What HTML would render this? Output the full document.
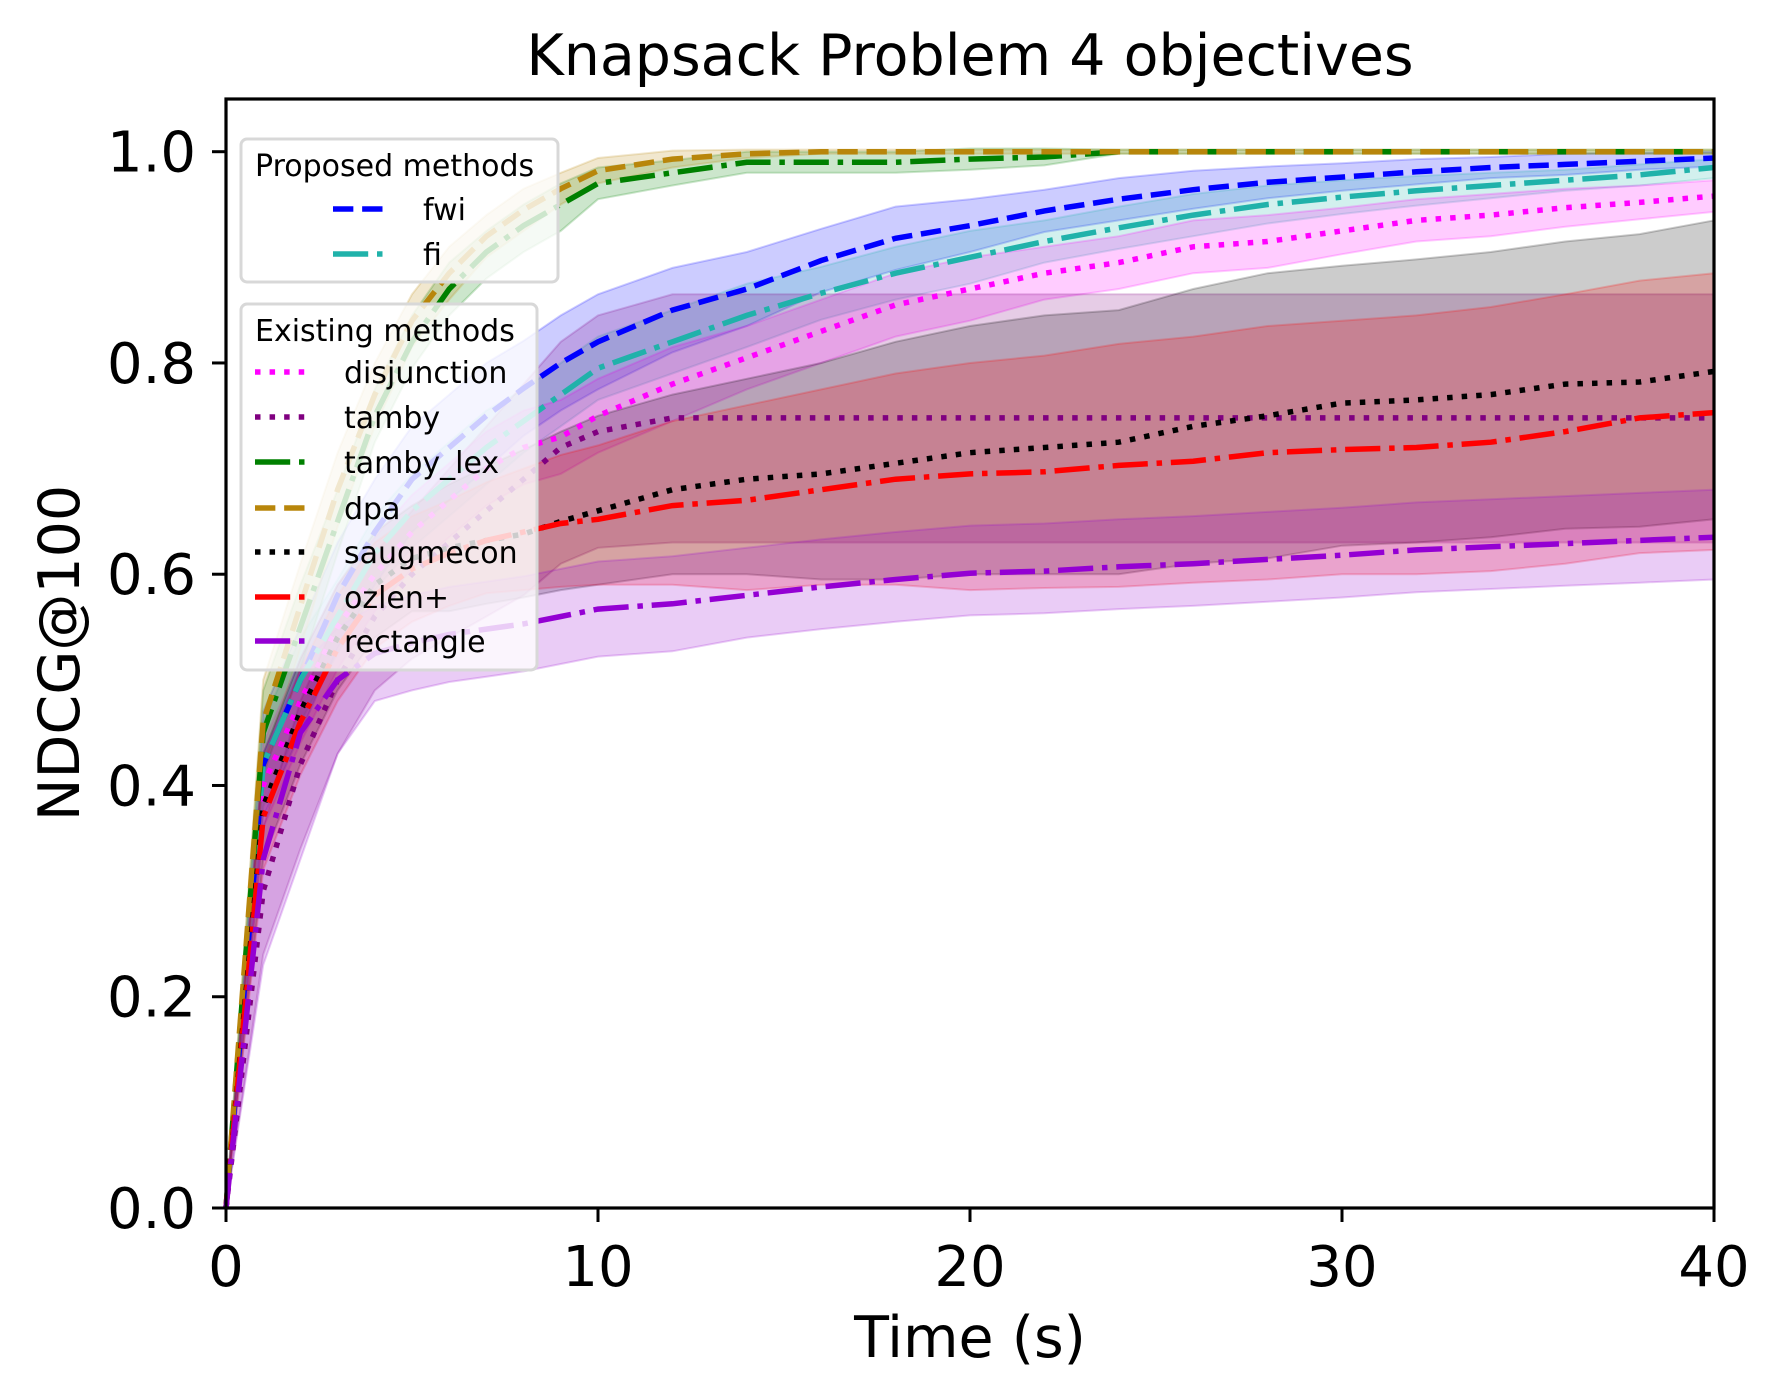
<!DOCTYPE html>
<html><head><meta charset="utf-8"><style>
html,body{margin:0;padding:0;background:#fff;}
svg{display:block;font-family:"DejaVu Sans","Liberation Sans",sans-serif;}
</style></head><body>
<svg id="chart" width="1780" height="1398" viewBox="0 0 1780 1398" xmlns="http://www.w3.org/2000/svg">
<rect width="1780" height="1398" fill="#fff"/>
<g id="bands"></g>
<g id="lines"></g>
<g id="axes"></g>
<g id="legend"></g>
</svg>
<script>
const times = [0,1,2,3,4,5,6,7,8,9,10,12,14,16,18,20,22,24,26,28,30,32,34,36,38,40];
const fwiMean = [0,0.42,0.50,0.58,0.64,0.69,0.72,0.75,0.776,0.80,0.82,0.85,0.87,0.897,0.918,0.93,0.944,0.955,0.964,0.971,0.976,0.981,0.985,0.988,0.991,0.994];
const fwiHi = [0,0.05,0.05,0.05,0.05,0.05,0.05,0.05,0.045,0.045,0.045,0.04,0.035,0.03,0.03,0.025,0.02,0.02,0.018,0.015,0.013,0.012,0.01,0.01,0.008,0.006];
const fwiLo = [0,0.05,0.05,0.05,0.05,0.05,0.05,0.05,0.045,0.045,0.045,0.04,0.035,0.03,0.03,0.025,0.02,0.02,0.018,0.015,0.013,0.012,0.01,0.01,0.008,0.008];
const fiMean = [0,0.42,0.50,0.56,0.62,0.66,0.69,0.72,0.745,0.77,0.795,0.82,0.845,0.866,0.885,0.90,0.915,0.928,0.94,0.95,0.957,0.963,0.968,0.973,0.978,0.985];
const fiHi = [0,0.04,0.04,0.035,0.035,0.035,0.035,0.035,0.03,0.03,0.03,0.03,0.03,0.025,0.025,0.025,0.02,0.02,0.02,0.018,0.016,0.014,0.012,0.01,0.01,0.008];
const fiLo = [0,0.04,0.04,0.035,0.035,0.035,0.035,0.035,0.03,0.03,0.03,0.03,0.03,0.025,0.025,0.025,0.02,0.02,0.02,0.018,0.016,0.014,0.012,0.01,0.01,0.01];
const disjMean = [0,0.40,0.48,0.55,0.60,0.64,0.67,0.70,0.72,0.73,0.75,0.78,0.805,0.83,0.855,0.87,0.885,0.895,0.91,0.915,0.925,0.935,0.94,0.947,0.952,0.958];
const disjHi = [0,0.04,0.04,0.04,0.035,0.035,0.035,0.035,0.035,0.035,0.035,0.035,0.03,0.03,0.03,0.03,0.025,0.025,0.025,0.025,0.022,0.02,0.02,0.018,0.016,0.015];
const disjLo = [0,0.04,0.04,0.04,0.035,0.035,0.035,0.035,0.035,0.035,0.035,0.035,0.03,0.03,0.03,0.03,0.025,0.025,0.025,0.025,0.022,0.02,0.02,0.018,0.016,0.015];
const tambyMean = [0,0.30,0.42,0.50,0.56,0.60,0.63,0.66,0.69,0.72,0.735,0.748,0.748,0.748,0.748,0.748,0.748,0.748,0.748,0.748,0.748,0.748,0.748,0.748,0.748,0.748];
const tambyHi = [0,0.06,0.06,0.06,0.06,0.06,0.07,0.08,0.09,0.1,0.11,0.117,0.117,0.117,0.117,0.117,0.117,0.117,0.117,0.117,0.117,0.117,0.117,0.117,0.117,0.117];
const tambyLo = [0,0.06,0.08,0.07,0.07,0.08,0.09,0.1,0.11,0.11,0.11,0.118,0.118,0.118,0.118,0.118,0.118,0.118,0.118,0.118,0.118,0.118,0.118,0.118,0.118,0.118];
const lexMean = [0,0.45,0.55,0.65,0.75,0.82,0.87,0.905,0.93,0.95,0.97,0.98,0.99,0.99,0.99,0.993,0.995,1.0,1.0,1.0,1.0,1.0,1.0,1.0,1.0,1.0];
const lexHi = [0,0.04,0.04,0.03,0.025,0.025,0.025,0.02,0.02,0.02,0.015,0.012,0.01,0.01,0.01,0.01,0.008,0.002,0.002,0.002,0.002,0.002,0.002,0.002,0.002,0.002];
const lexLo = [0,0.04,0.04,0.03,0.025,0.025,0.025,0.025,0.025,0.025,0.015,0.012,0.01,0.01,0.01,0.01,0.008,0.002,0.002,0.002,0.002,0.002,0.002,0.002,0.002,0.002];
const dpaMean = [0,0.46,0.57,0.68,0.77,0.84,0.885,0.92,0.945,0.965,0.982,0.993,0.998,1.0,1.0,1.0,1.0,1.0,1.0,1.0,1.0,1.0,1.0,1.0,1.0,1.0];
const dpaHi = [0,0.04,0.04,0.035,0.03,0.025,0.025,0.02,0.02,0.015,0.012,0.008,0.004,0.002,0.002,0.002,0.002,0.002,0.002,0.002,0.002,0.002,0.002,0.002,0.002,0.002];
const dpaLo = [0,0.04,0.04,0.035,0.03,0.025,0.025,0.02,0.02,0.015,0.012,0.008,0.004,0.002,0.002,0.002,0.002,0.002,0.002,0.002,0.002,0.002,0.002,0.002,0.002,0.002];
const saugMean = [0,0.38,0.47,0.54,0.59,0.615,0.625,0.632,0.638,0.65,0.66,0.68,0.69,0.695,0.705,0.715,0.72,0.725,0.74,0.75,0.762,0.765,0.77,0.78,0.782,0.792];
const saugHi = [0,0.05,0.05,0.05,0.05,0.05,0.06,0.07,0.08,0.085,0.09,0.09,0.095,0.105,0.115,0.12,0.125,0.125,0.13,0.135,0.13,0.133,0.135,0.135,0.14,0.143];
const saugLo = [0,0.05,0.05,0.05,0.05,0.05,0.06,0.06,0.06,0.065,0.07,0.08,0.09,0.1,0.11,0.115,0.12,0.125,0.13,0.135,0.135,0.135,0.135,0.137,0.137,0.14];
const ozlenMean = [0,0.37,0.46,0.53,0.58,0.605,0.62,0.632,0.64,0.648,0.652,0.665,0.67,0.68,0.69,0.695,0.697,0.703,0.707,0.715,0.718,0.72,0.725,0.735,0.748,0.753];
const ozlenHi = [0,0.05,0.05,0.05,0.05,0.05,0.05,0.055,0.06,0.065,0.07,0.08,0.09,0.095,0.1,0.105,0.11,0.115,0.118,0.12,0.122,0.125,0.128,0.13,0.13,0.132];
const ozlenLo = [0,0.05,0.05,0.05,0.05,0.05,0.05,0.05,0.055,0.06,0.062,0.075,0.085,0.09,0.1,0.11,0.11,0.115,0.115,0.12,0.118,0.12,0.122,0.125,0.128,0.13];
const rectMean = [0,0.33,0.45,0.50,0.525,0.535,0.543,0.548,0.553,0.56,0.567,0.572,0.58,0.588,0.595,0.601,0.603,0.607,0.61,0.614,0.618,0.623,0.626,0.629,0.632,0.635];
const rectHi = [0,0.1,0.06,0.05,0.045,0.045,0.045,0.045,0.045,0.045,0.045,0.045,0.045,0.045,0.045,0.045,0.045,0.045,0.045,0.045,0.045,0.045,0.045,0.045,0.045,0.045];
const rectLo = [0,0.1,0.12,0.07,0.045,0.045,0.045,0.045,0.045,0.045,0.045,0.045,0.04,0.04,0.04,0.04,0.04,0.04,0.04,0.04,0.04,0.04,0.04,0.04,0.04,0.04];
const xTicks = [0,10,20,30,40];
const yTicks = [0.0,0.2,0.4,0.6,0.8,1.0];

const NS='http://www.w3.org/2000/svg';
const X0=226,X1=1714,Y0=1208,Y1=151.7,TOP=99;
const sx=t=>X0+(X1-X0)*t/40;
const sy=v=>Y0-(Y0-Y1)*v;
function mk(tag,attrs,parent){const e=document.createElementNS(NS,tag);for(const k in attrs)e.setAttribute(k,attrs[k]);parent.appendChild(e);return e;}
const LW=5.5;
const dashes={dashed:(3.7*LW)+' '+(1.6*LW),dashdot:(6.4*LW)+' '+(1.6*LW)+' '+LW+' '+(1.6*LW),dotted:LW+' '+(1.65*LW)};
const series=[
 {n:'fwi',c:'#0000ff',s:'dashed',m:fwiMean,hi:fwiHi,lo:fwiLo},
 {n:'fi',c:'#20b2aa',s:'dashdot',m:fiMean,hi:fiHi,lo:fiLo},
 {n:'disjunction',c:'#ff00ff',s:'dotted',m:disjMean,hi:disjHi,lo:disjLo},
 {n:'tamby',c:'#800080',s:'dotted',m:tambyMean,hi:tambyHi,lo:tambyLo},
 {n:'tamby_lex',c:'#008000',s:'dashdot',m:lexMean,hi:lexHi,lo:lexLo},
 {n:'dpa',c:'#b8860b',s:'dashed',m:dpaMean,hi:dpaHi,lo:dpaLo},
 {n:'saugmecon',c:'#000000',s:'dotted',m:saugMean,hi:saugHi,lo:saugLo},
 {n:'ozlen+',c:'#ff0000',s:'dashdot',m:ozlenMean,hi:ozlenHi,lo:ozlenLo},
 {n:'rectangle',c:'#9400d3',s:'dashdot',m:rectMean,hi:rectHi,lo:rectLo}
];
const bands=document.getElementById('bands'),lines=document.getElementById('lines');
series.forEach(s=>{
  let up=times.map((t,i)=>sx(t).toFixed(1)+','+sy(Math.min(s.m[i]+s.hi[i],1.005)).toFixed(1));
  let dn=times.map((t,i)=>sx(t).toFixed(1)+','+sy(Math.max(s.m[i]-s.lo[i],0)).toFixed(1)).reverse();
  const b=mk('path',{d:'M'+up.join('L')+'L'+dn.join('L')+'Z',fill:s.c,'fill-opacity':0.2,stroke:s.c,'stroke-opacity':0.2,'stroke-width':2},bands);
  
  
});
series.forEach(s=>{
  const pts=times.map((t,i)=>sx(t).toFixed(1)+','+sy(s.m[i]).toFixed(1));
  const l=mk('path',{d:'M'+pts.join('L'),fill:'none',stroke:s.c,'stroke-width':LW,'stroke-dasharray':dashes[s.s]},lines);
  
  
});
const ax=document.getElementById('axes');
const fr=mk('rect',{x:X0,y:TOP,width:X1-X0,height:Y0-TOP,fill:'none',stroke:'#000','stroke-width':3.2},ax);


xTicks.forEach(t=>{
  mk('line',{x1:sx(t),x2:sx(t),y1:Y0,y2:Y0+14,stroke:'#000','stroke-width':3},ax);
  const tx=mk('text',{x:sx(t),y:Y0+78,'font-size':56,'text-anchor':'middle'},ax);
  tx.textContent=t;
  
  
});
yTicks.forEach(v=>{
  mk('line',{x1:X0-14,x2:X0,y1:sy(v),y2:sy(v),stroke:'#000','stroke-width':3},ax);
  const tx=mk('text',{x:X0-30,y:sy(v)+20,'font-size':56,'text-anchor':'end'},ax);
  tx.textContent=v.toFixed(1);
  
  
});
const tt=mk('text',{x:(X0+X1)/2,y:75,'font-size':57,'text-anchor':'middle'},ax);
tt.textContent='Knapsack Problem 4 objectives';


const xl=mk('text',{x:(X0+X1)/2,y:1357,'font-size':57,'text-anchor':'middle'},ax);
xl.textContent='Time (s)';


const yl=mk('text',{x:0,y:0,'font-size':57,'text-anchor':'middle',transform:'translate(79,653) rotate(-90)'},ax);
yl.textContent='NDCG@100';



const lg=document.getElementById('legend');
function box(x,y,w,h,name){const r=mk('rect',{x:x,y:y,width:w,height:h,rx:6,fill:'#fff','fill-opacity':0.8,stroke:'#d8d8d8','stroke-width':3},lg);

}
box(241,139,317,143,'legend-proposed-box');
box(241,304,296,366,'legend-existing-box');
function ltxt(x,y,t,name){const e=mk('text',{x:x,y:y+11,'font-size':30},lg);e.textContent=t;

}
ltxt(255,165,'Proposed methods','legend-proposed-title');
ltxt(255,330,'Existing methods','legend-existing-title');
function entry(s,x1,x2,tx,y){
  mk('line',{x1:x1,x2:x2,y1:y,y2:y,stroke:s.c,'stroke-width':LW,'stroke-dasharray':dashes[s.s]},lg);
  ltxt(tx,y,s.n,'legend-entry-'+s.n.replace('+','-plus'));
}
entry(series[0],333,391,423,209);
entry(series[1],333,391,423,254);
const ey=[372,417,462,508,552,597,641];
for(let i=2;i<9;i++)entry(series[i],255,311,344,ey[i-2]);
</script>
</body></html>
